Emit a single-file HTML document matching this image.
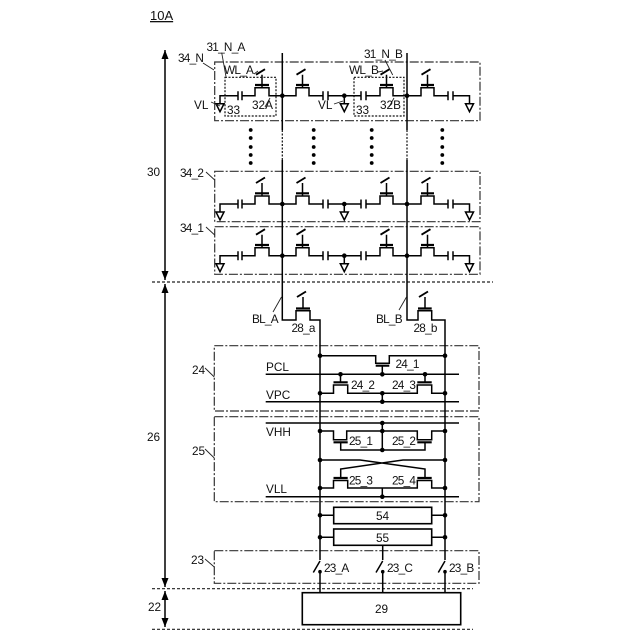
<!DOCTYPE html>
<html><head><meta charset="utf-8"><style>
html,body{margin:0;padding:0;background:#fff;width:640px;height:640px;overflow:hidden}
svg{display:block}
text{font-family:"Liberation Sans",sans-serif;font-size:11.8px;fill:#111}
.u{letter-spacing:-.75px}
.w{fill:none;stroke:#000;stroke-width:1.5}
.g{fill:none;stroke:#000;stroke-width:2.2}
.s{fill:none;stroke:#000;stroke-width:1.9}
.b{fill:none;stroke:#333;stroke-width:1.2;stroke-dasharray:9 2 2 2}
.d{fill:none;stroke:#222;stroke-width:1.2;stroke-dasharray:3 2}
.o{fill:none;stroke:#111;stroke-width:1.2;stroke-dasharray:2 1.5}
.l{fill:none;stroke:#222;stroke-width:.9}
.r{fill:#fff;stroke:#000;stroke-width:1.6}
</style></head><body>
<svg width="640" height="640" viewBox="0 0 640 640" xmlns="http://www.w3.org/2000/svg">
<defs>
<path id="gnd" class="w" d="M-4,8H4L0,16Z"/>
<g id="row">
<path class="w" d="M220,8V0H238M242,0H255V-8H269V0H296V-8H309V0H323M328,0H361M366,0H380V-8H393V0H421V-8H434V0H448M453,0H469.5V8"/>
<path class="w" d="M238,-4.5V4.5M242,-4.5V4.5M323,-4.5V4.5M328,-4.5V4.5M361,-4.5V4.5M366,-4.5V4.5M448,-4.5V4.5M453,-4.5V4.5"/>
<path class="w" d="M262,-8V-21M302.5,-8V-21M386.5,-8V-21M427.5,-8V-21"/>
<path class="s" d="M256,-21L265,-26.5M296.5,-21L305.5,-26.5M380.5,-21L389.5,-26.5M421.5,-21L430.5,-26.5"/>
<path class="g" d="M255,-10.7H269M296,-10.7H309M380,-10.7H393M421,-10.7H434"/>
<path class="w" d="M344.3,0V8"/>
<use href="#gnd" x="220"/><use href="#gnd" x="344.3"/><use href="#gnd" x="469.5"/>
<circle cx="282.3" cy="0" r="2.3"/><circle cx="407" cy="0" r="2.3"/><circle cx="344.3" cy="0" r="2.3"/>
</g>
<marker id="ah" viewBox="0 0 9 10" refX="9" refY="5" markerWidth="9" markerHeight="10" orient="auto-start-reverse" markerUnits="userSpaceOnUse"><path d="M0,1.5L9,5L0,8.5Z" fill="#000"/></marker>
</defs>

<text x="150" y="20" style="font-size:13px;text-decoration:underline">10A</text>

<path class="w" d="M165,50V280" marker-start="url(#ah)" marker-end="url(#ah)"/>
<path class="w" d="M165,284V587" marker-start="url(#ah)" marker-end="url(#ah)"/>
<path class="w" d="M165,591V627" marker-start="url(#ah)" marker-end="url(#ah)"/>
<text x="147" y="176">30</text><text x="147" y="441">26</text><text x="148" y="611">22</text>

<path class="d" d="M152,282H493M152,588.7H473M152,629.3H473"/>

<path class="b" d="M214.7,62H480V120.7H214.7Z"/>
<path class="b" d="M214.7,171.3H480V221.7H214.7Z"/>
<path class="b" d="M214.7,226.7H480V274.3H214.7Z"/>
<path class="b" d="M214.3,345.7H479V411H214.3Z"/>
<path class="b" d="M214.3,416.7H479V501.7H214.3Z"/>
<path class="b" d="M214.3,550.7H479V583.3H214.3Z"/>

<path class="w" d="M282.3,53V130M282.3,160V320H296V310.7H310V320H320V560M407,53V130M407,160V320H418V310.7H431.7V320H445V560"/>
<path class="o" d="M282.3,130V160M407,130V160"/>
<path class="g" d="M296,308.5H310M418,308.5H431.7"/>
<path class="w" d="M303,308.5V297M425,308.5V297"/>
<path class="s" d="M297,297L306,291.5M419,297L428,291.5"/>

<use href="#row" y="95.7"/><use href="#row" y="204"/><use href="#row" y="255.7"/>
<path class="o" d="M225,77.3H276V116H225ZM354,77.3H404V116H354Z"/>

<g fill="#000">
<circle cx="250.7" cy="130" r="1.9"/><circle cx="250.7" cy="138" r="1.9"/><circle cx="250.7" cy="147" r="1.9"/><circle cx="250.7" cy="155" r="1.9"/><circle cx="250.7" cy="163" r="1.9"/>
<circle cx="313.7" cy="130" r="1.9"/><circle cx="313.7" cy="138" r="1.9"/><circle cx="313.7" cy="147" r="1.9"/><circle cx="313.7" cy="155" r="1.9"/><circle cx="313.7" cy="163" r="1.9"/>
<circle cx="371.7" cy="130" r="1.9"/><circle cx="371.7" cy="138" r="1.9"/><circle cx="371.7" cy="147" r="1.9"/><circle cx="371.7" cy="155" r="1.9"/><circle cx="371.7" cy="163" r="1.9"/>
<circle cx="442.3" cy="130" r="1.9"/><circle cx="442.3" cy="138" r="1.9"/><circle cx="442.3" cy="147" r="1.9"/><circle cx="442.3" cy="155" r="1.9"/><circle cx="442.3" cy="163" r="1.9"/>
</g>

<!-- block 24 -->
<path class="w" d="M320,355.7H375.7V363.3H389.3V355.7H445M382.3,365.7V374.3M265.7,374.3H459M265.7,401.7H459"/>
<path class="g" d="M375.7,365.7H389.3M333.5,382.3H347.7M417.3,382.3H431.7"/>
<path class="w" d="M320,393.3H333.5V385H347.7V393.3H417.3V385H431.7V393.3H445M340.5,374.3V382.3M425,374.3V382.3M382.3,393.3V401.7"/>

<!-- block 25 -->
<path class="w" d="M265.7,423H459M320,431H333.5V439.7H346.7V431H417.3V439.7H431.7V431H445M382.3,423V450M340.7,442.3V450H425V442.3"/>
<path class="g" d="M333.5,442.3H347.7M417.3,442.3H431.7M333.5,478H347.7M417.3,478H431.7"/>
<path class="w" d="M320,460H360L425,469V478M445,460H403L340.7,469V478"/>
<path class="w" d="M320,488H333.5V480.5H347.7V488H417.3V480.5H431.7V488H445M382.3,488V496.7M265.7,496.7H459"/>

<!-- 54 55 -->
<path class="w" d="M320,515.3H334M432,515.3H445M320,537.3H334M432,537.3H445M382.7,545V560"/>
<rect class="r" x="333.7" y="507.3" width="98" height="16.4"/>
<rect class="r" x="333.7" y="529" width="98" height="16.3"/>

<!-- switches -->
<path class="w" d="M320,561L313.3,572.5M320,571.7V592.7M382.7,561L376,572.5M382.7,571.7V592.7M445,561L438.3,572.5M445,571.7V592.7"/>
<rect class="r" x="302.3" y="592.7" width="158.4" height="32"/>

<g fill="#000">
<circle cx="320" cy="355.7" r="2.3"/><circle cx="445" cy="355.7" r="2.3"/><circle cx="382.3" cy="374.3" r="2.3"/><circle cx="340.5" cy="374.3" r="2.3"/><circle cx="425" cy="374.3" r="2.3"/>
<circle cx="320" cy="393.3" r="2.3"/><circle cx="445" cy="393.3" r="2.3"/><circle cx="382.3" cy="393.3" r="2.3"/><circle cx="382.3" cy="401.7" r="2.3"/>
<circle cx="382.3" cy="423" r="2.3"/><circle cx="382.3" cy="431" r="2.3"/><circle cx="382.3" cy="450" r="2.3"/><circle cx="320" cy="431" r="2.3"/><circle cx="445" cy="431" r="2.3"/>
<circle cx="320" cy="460" r="2.3"/><circle cx="445" cy="460" r="2.3"/><circle cx="320" cy="488" r="2.3"/><circle cx="445" cy="488" r="2.3"/><circle cx="382.3" cy="496.7" r="2.3"/>
<circle cx="320" cy="515.3" r="2.3"/><circle cx="445" cy="515.3" r="2.3"/><circle cx="320" cy="537.3" r="2.3"/><circle cx="445" cy="537.3" r="2.3"/>
<circle cx="320" cy="571.7" r="1.8"/><circle cx="382.7" cy="571.7" r="1.8"/><circle cx="445" cy="571.7" r="1.8"/>
</g>

<!-- leaders -->
<path class="l" d="M203,63L214,70M221.7,52.7L226,76.7M385,60L392.7,75M211,102L220,106M334,104L343,101M270,98L265,107M394,98L389,107M254,74L258,71M378,72L383,71M206,172L214.7,180M206,227L214.7,235M205,368L214.3,377M205,449L214.3,458M205,559L214.3,567M281.5,297L273,312M406.5,297L399,310"/>

<!-- labels -->
<text class="u" x="178" y="62">34_N</text><text class="u" x="206.5" y="51">31_N_A</text><text class="u" x="364" y="58">31_N_B</text>
<text class="u" x="224" y="74">WL_A</text><text class="u" x="349" y="74">WL_B</text>
<text x="194" y="109">VL</text><text x="318" y="109">VL</text>
<text x="227" y="114">33</text><text x="252" y="109">32A</text><text x="356" y="114">33</text><text x="380" y="109">32B</text>
<text class="u" x="180" y="177">34_2</text><text class="u" x="180" y="232">34_1</text>
<text class="u" x="252" y="323">BL_A</text><text class="u" x="376" y="323">BL_B</text>
<text class="u" x="291.5" y="332">28_a</text><text class="u" x="413.5" y="332">28_b</text>
<text x="192" y="374">24</text><text x="192" y="455">25</text><text x="191" y="564">23</text>
<text x="266" y="371">PCL</text><text x="266" y="399">VPC</text><text x="266" y="436">VHH</text><text x="266" y="493">VLL</text>
<text class="u" x="395.5" y="368">24_1</text><text class="u" x="351" y="389">24_2</text><text class="u" x="392" y="389">24_3</text>
<text class="u" x="349" y="445">25_1</text><text class="u" x="392" y="445">25_2</text>
<text class="u" x="349" y="484.5">25_3</text><text class="u" x="392" y="484.5">25_4</text>
<text x="376" y="520">54</text><text x="376" y="542">55</text>
<text class="u" x="324" y="572">23_A</text><text class="u" x="387" y="572">23_C</text><text class="u" x="449" y="572">23_B</text>
<text x="375" y="613">29</text>
</svg>
</body></html>
